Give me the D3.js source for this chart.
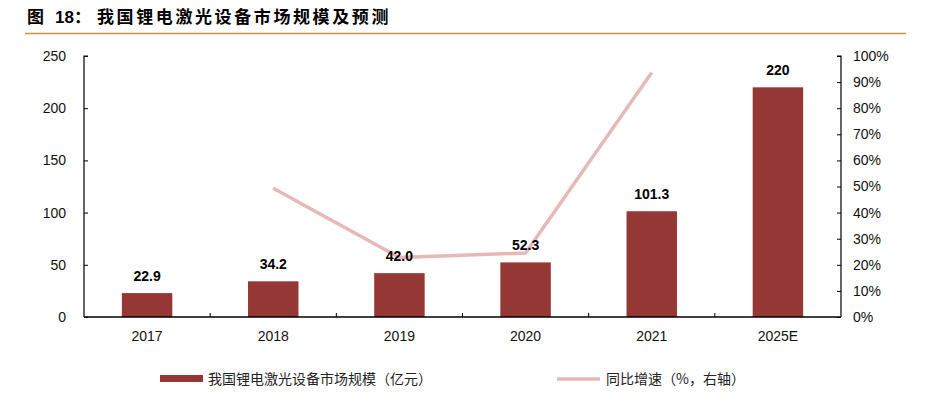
<!DOCTYPE html>
<html>
<head>
<meta charset="utf-8">
<title>我国锂电激光设备市场规模及预测</title>
<script src="https://d3js.org/d3.v7.min.js"></script>
<style>
  body { margin: 0; background: #fff; }
  svg text { font-family: "Liberation Sans", Arial, "Noto Sans CJK SC", sans-serif; }
</style>
</head>
<body>
<div id="chart"></div>
<script>
// data
var years = ["2017", "2018", "2019", "2020", "2021", "2025E"];
var marketSize = [22.9, 34.2, 42.0, 52.3, 101.3, 220];
var sizeLabels = ["22.9", "34.2", "42.0", "52.3", "101.3", "220"];
var growthYears = ["2018", "2019", "2020", "2021"];
var growthRate = [0.493, 0.228, 0.245, 0.937];
var leftTicks = [0, 50, 100, 150, 200, 250];
var rightTicks = [0, 0.1, 0.2, 0.3, 0.4, 0.5, 0.6, 0.7, 0.8, 0.9, 1.0];

var width = 939, height = 397;
var pLeft = 84, pRight = 841, pTop = 56, pBottom = 317;

var svg = d3.select("#chart").append("svg")
    .attr("width", width)
    .attr("height", height);

// title
var title = svg.append("text")
    .attr("y", 23)
    .attr("font-size", 17).attr("font-weight", "bold")
    .attr("fill", "#000")
    .style("font-family", "'Noto Sans CJK SC', sans-serif");
title.append("tspan").attr("x", 27).text("图");
title.append("tspan").attr("x", 55).style("font-family", "'Liberation Sans', Arial, sans-serif").text("18");
title.append("tspan").attr("x", 74).text("：");
title.append("tspan").attr("x", 97).attr("letter-spacing", 2.6).text("我国锂电激光设备市场规模及预测");
svg.append("line")
    .attr("x1", 25).attr("x2", 906)
    .attr("y1", 33.5).attr("y2", 33.5)
    .attr("stroke", "#c9943a").attr("stroke-width", 1.5);

var x = d3.scaleBand().domain(years).range([pLeft, pRight]).paddingInner(0.6).paddingOuter(0.3);
var xTick = d3.scaleBand().domain(years).range([pLeft, pRight]);
var y = d3.scaleLinear().domain([0, 250]).range([pBottom, pTop]);
var y2 = d3.scaleLinear().domain([0, 1]).range([pBottom, pTop]);

// bars
svg.selectAll(".bar")
    .data(marketSize)
    .enter().append("rect")
    .attr("class", "bar")
    .attr("x", function(d, i) { return x(years[i]); })
    .attr("width", x.bandwidth())
    .attr("y", function(d) { return y(d); })
    .attr("height", function(d) { return pBottom - y(d); })
    .attr("fill", "#953735");

// growth line (behind the labels)
var line = d3.line()
    .x(function(d, i) { return x(growthYears[i]) + x.bandwidth() / 2; })
    .y(function(d) { return y2(d); });
svg.append("path")
    .datum(growthRate)
    .attr("d", line)
    .attr("fill", "none")
    .attr("stroke", "#e6b9b8")
    .attr("stroke-width", 3.5);

// bar labels
svg.selectAll(".lbl")
    .data(marketSize)
    .enter().append("text")
    .attr("class", "lbl")
    .attr("x", function(d, i) { return x(years[i]) + x.bandwidth() / 2; })
    .attr("y", function(d) { return y(d) - 12; })
    .attr("text-anchor", "middle")
    .attr("font-size", 14).attr("font-weight", "bold")
    .attr("fill", "#000")
    .text(function(d, i) { return sizeLabels[i]; });

// left axis
var gl = svg.append("g")
    .attr("transform", "translate(" + pLeft + ",0)")
    .call(d3.axisLeft(y).tickValues(leftTicks).tickSize(0).tickPadding(18));
gl.select(".domain").attr("stroke", "#000").attr("stroke-width", 1.2)
    .attr("d", "M4," + pTop + "H0V" + pBottom);
gl.selectAll(".tick line").attr("x1", 0).attr("x2", 4).attr("stroke", "#000");
gl.selectAll("text").attr("font-size", 14).attr("fill", "#111");

// right axis
var gr = svg.append("g")
    .attr("transform", "translate(" + pRight + ",0)")
    .call(d3.axisRight(y2).tickValues(rightTicks)
        .tickFormat(function(d) { return Math.round(d * 100) + "%"; })
        .tickSize(0).tickPadding(12));
gr.select(".domain").attr("stroke", "#000").attr("stroke-width", 1.2)
    .attr("d", "M-4," + pTop + "H0V" + pBottom);
gr.selectAll(".tick line").attr("x1", -4).attr("x2", 0).attr("stroke", "#000");
gr.selectAll("text").attr("font-size", 14).attr("fill", "#111");

// bottom axis
var gb = svg.append("g")
    .attr("transform", "translate(0," + pBottom + ")")
    .call(d3.axisBottom(xTick).tickSize(0).tickPadding(14));
gb.select(".domain").attr("stroke", "#000").attr("stroke-width", 1.5)
    .attr("d", "M" + pLeft + ",0H" + pRight);
gb.selectAll("text").attr("font-size", 14).attr("fill", "#111");
// small tick marks between categories
svg.selectAll(".xt")
    .data(years.slice(1))
    .enter().append("line")
    .attr("x1", function(d) { return xTick(d); })
    .attr("x2", function(d) { return xTick(d); })
    .attr("y1", pBottom - 4).attr("y2", pBottom)
    .attr("stroke", "#000");

// legend
var lg = svg.append("g");
lg.append("rect").attr("x", 160).attr("y", 375).attr("width", 43).attr("height", 7).attr("fill", "#953735");
lg.append("text").attr("x", 208).attr("y", 384).attr("font-size", 14).attr("fill", "#222")
    .style("font-family", "'Noto Sans CJK SC', sans-serif")
    .text("我国锂电激光设备市场规模（亿元）");
lg.append("line").attr("x1", 557).attr("x2", 600).attr("y1", 379).attr("y2", 379)
    .attr("stroke", "#e6b9b8").attr("stroke-width", 3.5);
lg.append("text").attr("x", 606).attr("y", 384).attr("font-size", 14).attr("fill", "#222")
    .style("font-family", "'Noto Sans CJK SC', sans-serif")
    .text("同比增速（%，右轴）");
</script>
</body>
</html>
